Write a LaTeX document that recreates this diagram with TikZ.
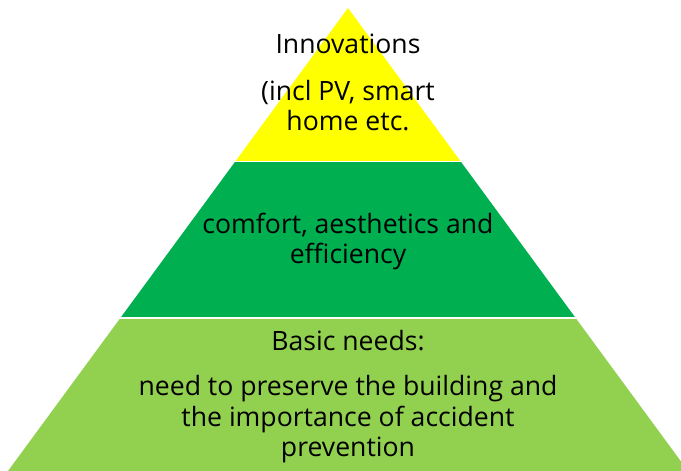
\documentclass[tikz,border=0pt]{standalone}
\usepackage{fontspec}
\setmainfont{Open Sans}
\definecolor{tipyellow}{HTML}{FFFF00}
\definecolor{midgreen}{HTML}{00B050}
\definecolor{basegreen}{HTML}{92D050}
\begin{document}
\begin{tikzpicture}[x=1pt,y=1pt]
        \tikzstyle{every node} = [font=\fontsize{26.6}{30.5}\selectfont, align=center, inner sep=0pt]
        \useasboundingbox (0,0) rectangle (681,471);
        \clip (0,0) rectangle (681,471);
        \coordinate (apex) at (348,463);
        \coordinate (left) at (8,0);
        \coordinate (right) at (688,0);
        \foreach \lo/\hi/\col in {0/151/basegreen, 154/308/midgreen, 310/471/tipyellow}
        {
            \begin{scope}
                \clip (0,\lo) rectangle (681,\hi);
                \fill[\col] (apex) -- (left) -- (right) -- cycle;
            \end{scope}
        }
        \node[anchor=base] (innov) at (348,417) {Innovations};
        \node[anchor=base] (incl) at (348,340) {(incl PV, smart\\home etc.};
        \node[anchor=base] (comfort) at (348,207) {comfort, aesthetics and\\efficiency};
        \node[anchor=base] (basic) at (348,120) {Basic needs:};
        \node[anchor=base] (need) at (348,14) {need to preserve the building and\\the importance of accident\\prevention};
    \end{tikzpicture}
\end{document}
